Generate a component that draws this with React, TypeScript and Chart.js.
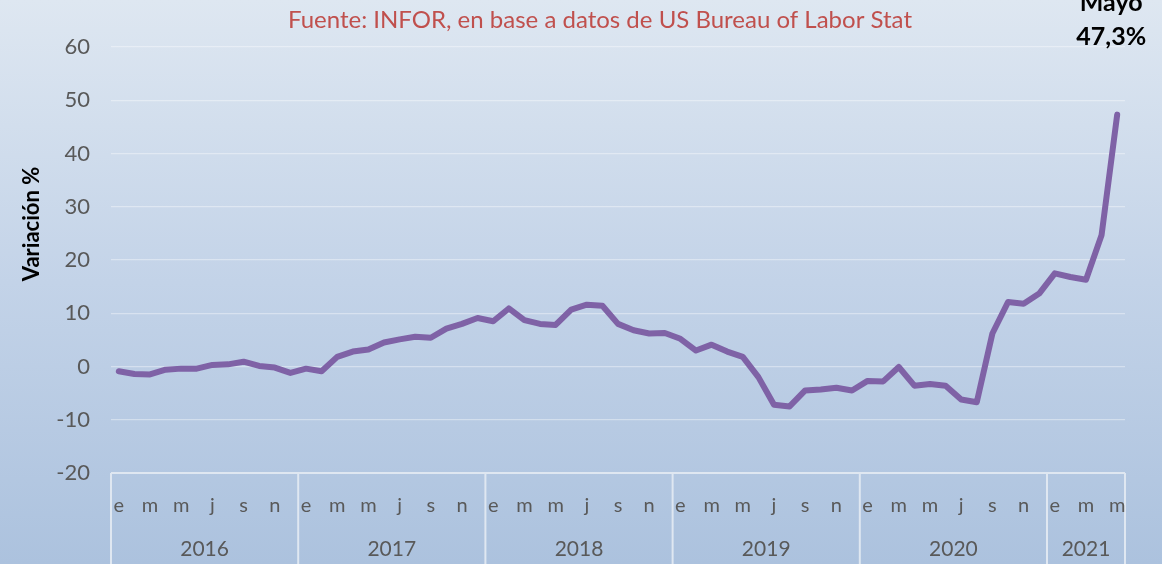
import React, { useEffect, useRef } from "react";
import { Chart, registerables } from "chart.js";

Chart.register(...registerables);

const years = ["2016", "2017", "2018", "2019", "2020", "2021"];
const monthsPerYear = [12, 12, 12, 12, 12, 5];
const monthLetters = ["e", "f", "m", "a", "m", "j", "j", "a", "s", "o", "n", "d"];

const values2016 = [-0.9, -1.4, -1.5, -0.6, -0.4, -0.4, 0.3, 0.4, 0.9, 0.1, -0.2, -1.2];
const values2017 = [-0.4, -0.9, 1.8, 2.8, 3.2, 4.5, 5.1, 5.6, 5.4, 7.1, 8.0, 9.1];
const values2018 = [8.5, 10.9, 8.7, 8.0, 7.8, 10.7, 11.6, 11.4, 8.0, 6.8, 6.2, 6.3];
const values2019 = [5.2, 3.0, 4.1, 2.8, 1.8, -2.0, -7.2, -7.5, -4.5, -4.3, -4.0, -4.5];
const values2020 = [-2.7, -2.8, -0.1, -3.6, -3.3, -3.6, -6.2, -6.7, 6.2, 12.1, 11.8, 13.7];
const values2021 = [17.5, 16.8, 16.3, 24.7, 47.3];

const yTicks = [-20, -10, 0, 10, 20, 30, 40, 50, 60];

const titleText = "Fuente: INFOR, en base a datos de US Bureau of Labor Stat";
const yAxisTitle = "Variación %";
const annotationLines = ["Mayo", "47,3%"];

const FONT = "Lato, 'Open Sans', sans-serif";

export default function App() {
  const ref = useRef<HTMLCanvasElement | null>(null);

  useEffect(() => {
    document.body.style.margin = "0";
    const canvas = ref.current;
    if (!canvas) return;

    const allValues = [...values2016, ...values2017, ...values2018, ...values2019, ...values2020, ...values2021];
    const labels: string[] = [];
    monthsPerYear.forEach((n, yi) => {
      for (let m = 0; m < n; m++) labels.push(monthLetters[m] + " " + years[yi]);
    });

    const bgPlugin = {
      id: "bg",
      beforeDraw(chart: any) {
        const { ctx, width, height } = chart;
        const g = ctx.createLinearGradient(0, 0, 0, height);
        g.addColorStop(0, "#dee7f1");
        g.addColorStop(0.5, "#c3d3e8");
        g.addColorStop(1, "#acc2de");
        ctx.save();
        ctx.fillStyle = g;
        ctx.fillRect(0, 0, width, height);
        ctx.restore();
      },
    };

    const decorPlugin = {
      id: "decor",
      afterDraw(chart: any) {
        const { ctx, chartArea } = chart;
        const x = chart.scales.x;
        const n = labels.length;
        const step = n > 1 ? x.getPixelForValue(1) - x.getPixelForValue(0) : 0;
        const left = x.getPixelForValue(0) - step / 2;
        const right = x.getPixelForValue(n - 1) + step / 2;
        const top = chartArea.bottom;
        ctx.save();
        // axis box
        ctx.strokeStyle = "#dfe7f1";
        ctx.lineWidth = 2;
        ctx.beginPath();
        ctx.moveTo(left, top);
        ctx.lineTo(right, top);
        ctx.stroke();
        let start = 0;
        const dividers: number[] = [left];
        monthsPerYear.forEach((cnt) => {
          start += cnt;
          dividers.push(start >= n ? right : x.getPixelForValue(start) - step / 2);
        });
        dividers.forEach((dx) => {
          ctx.beginPath();
          ctx.moveTo(dx, top);
          ctx.lineTo(dx, chart.height);
          ctx.stroke();
        });
        // month labels
        ctx.fillStyle = "#595959";
        ctx.font = `20px ${FONT}`;
        ctx.textAlign = "center";
        ctx.textBaseline = "middle";
        let idx = 0;
        monthsPerYear.forEach((cnt) => {
          for (let m = 0; m < cnt; m++) {
            if (m % 2 === 0) ctx.fillText(monthLetters[m], x.getPixelForValue(idx), top + 33);
            idx++;
          }
        });
        // year labels
        ctx.font = `21px ${FONT}`;
        for (let yi = 0; yi < years.length; yi++) {
          const cx = (dividers[yi] + dividers[yi + 1]) / 2;
          ctx.fillText(years[yi], cx, top + 76);
        }
        // title
        ctx.fillStyle = "#c0504d";
        ctx.font = `24px ${FONT}`;
        ctx.fillText(titleText, 600, 20);
        // y axis title
        ctx.save();
        ctx.translate(32, 224);
        ctx.rotate(-Math.PI / 2);
        ctx.fillStyle = "#000000";
        ctx.font = `bold 22px ${FONT}`;
        ctx.fillText(yAxisTitle, 0, 0);
        ctx.restore();
        // annotation
        const lastX = x.getPixelForValue(n - 1) - 6;
        ctx.fillStyle = "#000000";
        ctx.font = `bold 25px ${FONT}`;
        ctx.fillText(annotationLines[0], lastX, 3);
        ctx.fillText(annotationLines[1], lastX, 37);
        ctx.restore();
      },
    };

    const chart = new Chart(canvas, {
      type: "line",
      data: {
        labels,
        datasets: [
          {
            data: allValues,
            borderColor: "#7f62a6",
            borderWidth: 6,
            pointRadius: 0,
            tension: 0,
            borderJoinStyle: "round",
            borderCapStyle: "round",
            fill: false,
          },
        ],
      },
      options: {
        responsive: false,
        animation: false,
        maintainAspectRatio: false,
        layout: { padding: { left: 0, right: 37, top: 47, bottom: 91 } },
        plugins: { legend: { display: false }, tooltip: { enabled: false }, title: { display: false } },
        scales: {
          x: {
            type: "category",
            offset: true,
            display: false,
            grid: { display: false },
          },
          y: {
            min: -20,
            max: 60,
            afterBuildTicks(scale: any) {
              scale.ticks = yTicks.map((v) => ({ value: v }));
            },
            afterFit(scale: any) {
              scale.width = 111;
            },
            border: { display: false },
            grid: {
              color: (c: any) => (c.tick && c.tick.value === -20 ? "rgba(0,0,0,0)" : "rgba(255,255,255,0.38)"),
              lineWidth: 1.2,
              drawTicks: false,
            },
            ticks: {
              padding: 21,
              color: "#595959",
              font: { size: 22, family: FONT },
            },
          },
        },
      },
      plugins: [bgPlugin, decorPlugin],
    });

    return () => chart.destroy();
  }, []);

  return <canvas ref={ref} width={1162} height={564} style={{ display: "block" }} />;
}
